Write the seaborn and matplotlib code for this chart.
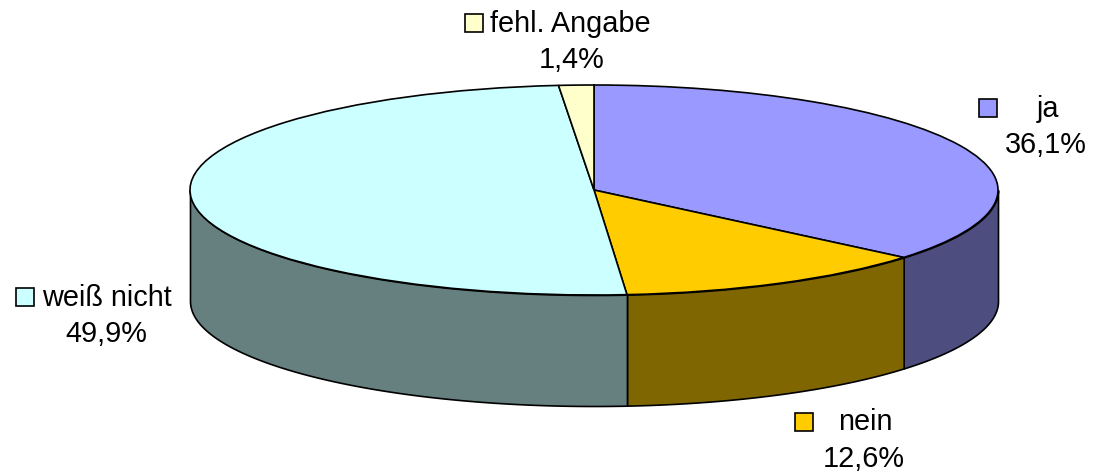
import numpy as np
import matplotlib
matplotlib.use("Agg")
import matplotlib.pyplot as plt
from matplotlib.patches import Rectangle
import seaborn as sns

categories = ["ja", "nein", "weiß nicht", "fehl. Angabe"]
values = [36.1, 12.6, 49.9, 1.4]
value_labels = ["36,1%", "12,6%", "49,9%", "1,4%"]
top_colors = ["#9999FF", "#FFCC00", "#CCFFFF", "#FFFFCC"]
side_colors = ["#4D4D80", "#806600", "#668080", "#808066"]

W, H = 1094, 474
# ellipse of the pie top in pixels
CX, CY, RX, RY = 594, 190, 404, 105
DEPTH = 111 / RY

sns.set_theme(style="white")
plt.rcParams["font.family"] = ["Liberation Sans", "DejaVu Sans"]

fig = plt.figure(figsize=(W / 100, H / 100), dpi=100)
ax = fig.add_axes([0, 0, 1, 1])

# side wall, only the front half of the pie shows
edges = np.cumsum([0] + values) / sum(values) * 360
for i in range(len(values)):
    lo, hi = max(edges[i], 90), min(edges[i + 1], 270)
    if lo >= hi:
        continue
    t = np.radians(np.linspace(lo, hi, 100))
    ax.fill_between(np.sin(t), np.cos(t), np.cos(t) - DEPTH,
                    facecolor=side_colors[i], edgecolor="black", linewidth=1.2)

ax.pie(values, colors=sns.color_palette(top_colors), startangle=90, counterclock=False,
       wedgeprops={"edgecolor": "black", "linewidth": 1.2})
ax.set_aspect("auto")
ax.set_xlim(-CX / RX, (W - CX) / RX)
ax.set_ylim((CY - H) / RY, CY / RY)


def label(i, key_x, key_y, name_x, name_y, val_x, val_y):
    fig.add_artist(Rectangle((key_x / W, 1 - (key_y + 18) / H), 18 / W, 18 / H,
                             transform=fig.transFigure, facecolor=top_colors[i],
                             edgecolor="black", linewidth=1.2))
    fig.text(name_x / W, 1 - name_y / H, categories[i], fontsize=20.8,
             ha="left", va="center", color="black")
    fig.text(val_x / W, 1 - val_y / H, value_labels[i], fontsize=20.8,
             ha="center", va="center", color="black")


label(0, 979, 99, 1037, 109, 1046, 145)
label(1, 795, 413, 838, 422, 864, 459)
label(2, 16, 288, 42, 298, 106, 334)
label(3, 465, 14, 490, 24, 572, 60)

fig.savefig("out.png", dpi=100)
